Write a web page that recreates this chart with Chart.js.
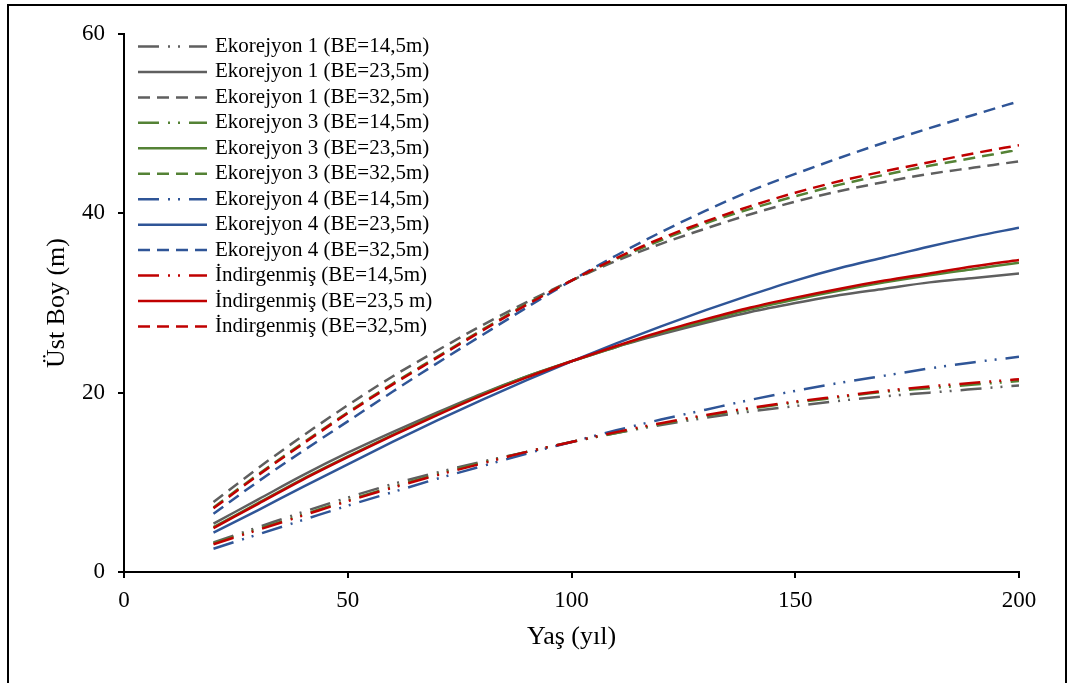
<!DOCTYPE html>
<html><head><meta charset="utf-8">
<script src="https://cdn.jsdelivr.net/npm/chart.js@4/dist/chart.umd.min.js"></script>
<style>html,body{margin:0;padding:0;background:#fff}canvas{display:block}</style>
</head><body>
<canvas id="c" width="1068" height="683"></canvas>
<script>
// Ages (x values)
const ages = [20,30,40,50,60,70,80,90,100,110,120,130,140,150,160,170,180,190,200];

// Ekorejyon 1
const e1_145 = [3.3,5.0,6.7,8.3,9.8,11.1,12.3,13.4,14.5,15.5,16.4,17.2,17.9,18.5,19.1,19.6,20.0,20.4,20.8];
const e1_235 = [5.4,8.1,10.8,13.3,15.6,17.8,19.9,21.8,23.5,25.1,26.5,27.8,29.0,30.0,30.9,31.6,32.3,32.8,33.3];
const e1_325 = [7.8,11.6,15.2,18.6,21.8,24.7,27.5,30.1,32.5,34.7,36.6,38.3,39.9,41.3,42.5,43.5,44.4,45.1,45.8];
// Ekorejyon 3
const e3_145 = [3.2,4.8,6.4,8.0,9.5,10.9,12.2,13.4,14.5,15.5,16.5,17.4,18.2,18.9,19.5,20.1,20.5,20.9,21.3];
const e3_235 = [5.0,7.7,10.4,12.9,15.3,17.6,19.8,21.8,23.5,25.1,26.7,28.0,29.3,30.4,31.4,32.3,33.1,33.8,34.5];
const e3_325 = [7.2,10.9,14.4,17.8,21.0,24.0,27.0,29.9,32.5,34.9,37.0,38.9,40.5,41.9,43.2,44.3,45.3,46.2,47.1];
// Ekorejyon 4
const e4_145 = [2.6,4.2,5.8,7.4,8.9,10.4,11.8,13.2,14.5,15.8,17.0,18.1,19.2,20.2,21.1,21.9,22.7,23.4,24.0];
const e4_235 = [4.4,6.9,9.5,12.0,14.5,16.9,19.2,21.4,23.5,25.5,27.4,29.2,30.9,32.5,33.9,35.1,36.3,37.4,38.4];
const e4_325 = [6.5,10.1,13.5,16.8,20.1,23.3,26.4,29.5,32.5,35.3,37.9,40.3,42.5,44.4,46.2,47.9,49.5,51.0,52.5];
// İndirgenmiş
const ind_145 = [3.1,4.7,6.3,7.9,9.4,10.8,12.1,13.4,14.5,15.6,16.6,17.5,18.3,19.0,19.6,20.2,20.7,21.1,21.5];
const ind_235 = [4.9,7.6,10.3,12.8,15.2,17.5,19.7,21.7,23.5,25.2,26.8,28.2,29.5,30.6,31.6,32.5,33.3,34.1,34.8];
const ind_325 = [7.1,10.8,14.3,17.7,20.9,23.9,26.9,29.8,32.5,35.0,37.2,39.1,40.8,42.3,43.6,44.7,45.7,46.7,47.6];

const seriesLabels = [
  'Ekorejyon 1 (BE=14,5m)','Ekorejyon 1 (BE=23,5m)','Ekorejyon 1 (BE=32,5m)',
  'Ekorejyon 3 (BE=14,5m)','Ekorejyon 3 (BE=23,5m)','Ekorejyon 3 (BE=32,5m)',
  'Ekorejyon 4 (BE=14,5m)','Ekorejyon 4 (BE=23,5m)','Ekorejyon 4 (BE=32,5m)',
  'İndirgenmiş (BE=14,5m)','İndirgenmiş (BE=23,5 m)','İndirgenmiş (BE=32,5m)'
];
const xTicks = [0,50,100,150,200];
const yTicks = [0,20,40,60];
const xTitle = 'Yaş (yıl)';
const yTitle = 'Üst Boy (m)';

const C_E1 = '#5f5f5f', C_E3 = '#548235', C_E4 = '#2f5597', C_IND = '#c00000';
const DASH_DOT = [21,9,2,8,2,9];
const DASH = [12,7];
const SOLID = [];
const FONT = "'Liberation Serif', 'Times New Roman', serif";

function ds(label, vals, color, dash, order) {
  return {
    label, data: ages.map((a, i) => ({x: a, y: vals[i]})),
    borderColor: color, backgroundColor: color, borderWidth: 2.5,
    borderDash: dash, borderCapStyle: 'butt', pointRadius: 0, pointHoverRadius: 0,
    fill: false, cubicInterpolationMode: 'monotone', order
  };
}

const datasets = [
  ds(seriesLabels[0], e1_145, C_E1, DASH_DOT, 3),
  ds(seriesLabels[1], e1_235, C_E1, SOLID, 3),
  ds(seriesLabels[2], e1_325, C_E1, DASH, 3),
  ds(seriesLabels[3], e3_145, C_E3, DASH_DOT, 2),
  ds(seriesLabels[4], e3_235, C_E3, SOLID, 2),
  ds(seriesLabels[5], e3_325, C_E3, DASH, 2),
  ds(seriesLabels[6], e4_145, C_E4, DASH_DOT, 1),
  ds(seriesLabels[7], e4_235, C_E4, SOLID, 1),
  ds(seriesLabels[8], e4_325, C_E4, DASH, 1),
  ds(seriesLabels[9], ind_145, C_IND, DASH_DOT, 0),
  ds(seriesLabels[10], ind_235, C_IND, SOLID, 0),
  ds(seriesLabels[11], ind_325, C_IND, DASH, 0)
];

const framePlugin = {
  id: 'frame',
  beforeDraw(chart) {
    const ctx = chart.ctx;
    ctx.save();
    ctx.fillStyle = '#fff';
    ctx.fillRect(0, 0, chart.width, chart.height);
    ctx.strokeStyle = '#000';
    ctx.lineWidth = 2;
    ctx.strokeRect(8, 5, chart.width - 10, chart.height + 20);
    ctx.restore();
  }
};

const insideLegend = {
  id: 'insideLegend',
  afterDatasetsDraw(chart) {
    const ctx = chart.ctx;
    const a = chart.chartArea;
    const x0 = a.left + 14, lineW = 69, textX = x0 + lineW + 8;
    const y0 = a.top + 12.5, step = 25.45;
    ctx.save();
    chart.data.datasets.forEach((d, i) => {
      const y = y0 + i * step;
      ctx.strokeStyle = d.borderColor;
      ctx.lineWidth = d.borderWidth;
      ctx.lineCap = 'butt';
      ctx.setLineDash(d.borderDash);
      ctx.beginPath(); ctx.moveTo(x0, y); ctx.lineTo(x0 + lineW, y); ctx.stroke();
      ctx.setLineDash([]);
      ctx.fillStyle = '#000';
      ctx.font = '21px ' + FONT;
      ctx.textBaseline = 'middle';
      ctx.textAlign = 'left';
      ctx.fillText(d.label, textX, y);
    });
    ctx.restore();
  }
};

new Chart(document.getElementById('c'), {
  type: 'line',
  data: { datasets },
  options: {
    responsive: false, animation: false, devicePixelRatio: 1,
    layout: { padding: { top: 34, right: 49, left: 0, bottom: 0 } },
    plugins: { legend: { display: false }, tooltip: { enabled: false } },
    scales: {
      x: {
        type: 'linear', min: 0, max: 200,
        afterBuildTicks(s) { s.ticks = xTicks.map(v => ({value: v})); },
        ticks: { color: '#000', font: { family: FONT, size: 23 }, padding: 9, maxRotation: 0 },
        grid: { display: true, drawOnChartArea: false, drawTicks: true, tickLength: 6, color: '#000', lineWidth: 2 },
        border: { display: true, color: '#000', width: 2 },
        title: { display: true, text: xTitle, color: '#000', font: { family: FONT, size: 26 }, padding: { top: 0, bottom: 30 } },
        afterFit(s) { s.height = 111; }
      },
      y: {
        min: 0, max: 60,
        afterBuildTicks(s) { s.ticks = yTicks.map(v => ({value: v})); },
        ticks: { color: '#000', font: { family: FONT, size: 23 }, padding: 13 },
        grid: { display: true, drawOnChartArea: false, drawTicks: true, tickLength: 6, color: '#000', lineWidth: 2 },
        border: { display: true, color: '#000', width: 2 },
        title: { display: true, text: yTitle, color: '#000', font: { family: FONT, size: 26 }, padding: { top: 42, bottom: 0 } },
        afterFit(s) { s.width = 124; }
      }
    }
  },
  plugins: [framePlugin, insideLegend]
});
</script>
</body></html>
